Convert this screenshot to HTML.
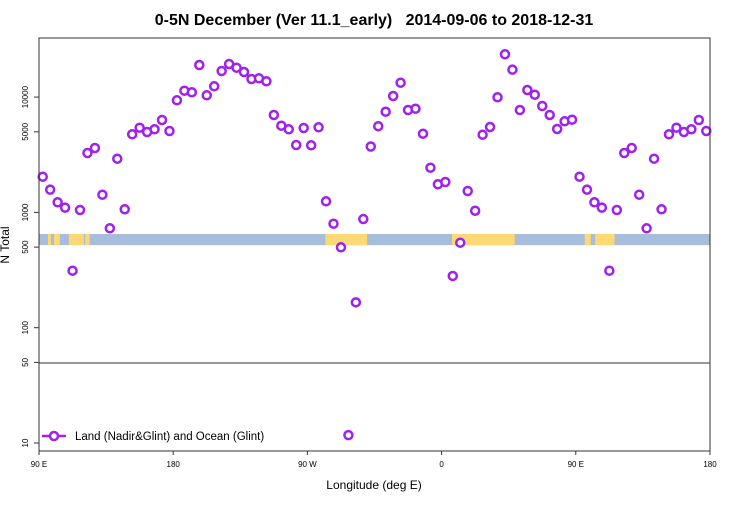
<!DOCTYPE html>
<html><head><meta charset="utf-8"><style>
body{margin:0;background:#fff;}
svg text{font-family:"Liberation Sans",sans-serif;}
</style></head><body>
<svg id="chart" width="750" height="500" xmlns="http://www.w3.org/2000/svg">
<text x="374" y="25" font-size="16" font-weight="bold" text-anchor="middle" style="white-space:pre" xml:space="preserve">0-5N December (Ver 11.1_early)   2014-09-06 to 2018-12-31</text>
<g id="band"></g>
<line x1="39" x2="710" y1="363" y2="363" stroke="#333" stroke-width="1"/>
<g id="marks"></g>
<rect x="39" y="38" width="671" height="413" fill="none" stroke="#333" stroke-width="1"/>
<g id="axes"></g>
<text x="374" y="489" font-size="12" text-anchor="middle">Longitude (deg E)</text>
<text transform="translate(9,245) rotate(-90)" font-size="12" text-anchor="middle">N Total</text>
<g>
<line x1="42" x2="66" y1="436" y2="436" stroke="#a020f0" stroke-width="2.5"/>
<circle cx="54" cy="436" r="4" fill="#fff" stroke="#a020f0" stroke-width="2.5"/>
<text x="75" y="440" font-size="11.5">Land (Nadir&amp;Glint) and Ocean (Glint)</text>
</g>
</svg>
<script>
const lons=[];for(let i=0;i<90;i++)lons.push(92.5+5*i);
const totals=[2040,1574,1224,1099,312,1049,3275,3619,1424,728,2923,1064,4757,5427,4981,5259,6330,5082,9380,11360,11005,18980,10366,12410,16840,19370,17990,16510,14350,14560,13710,6996,5648,5259,3842,5395,3819,5471,1248,798,498,11.7,166,876,3729,5592,7469,10220,13330,7726,7929,4815,2442,1753,1835,281,546,1533,1034,4720,5505,9960,23510,17290,7726,11520,10490,8372,6996,5290,6168,6368,2040,1574,1224,1099,312,1049,3275,3619,1424,728,2923,1064,4757,5427,4981,5259,6330,5082];
const yTicks=[10,50,100,500,1000,5000,10000];
const xTickLons=[90,180,270,360,450,540];
const xTickLabels=["90 E","180","90 W","0","90 E","180"];
const landSegs=[[96,98],[100,104],[110,120],[121,124],[282,310],[367,409],[456,460],[463,476]];
const X=l=>39+(l-90)*671/450;
const Y=v=>443-(Math.log10(v)-1)*115.3;
const NS="http://www.w3.org/2000/svg";
function mk(tag,attrs,parent){const e=document.createElementNS(NS,tag);for(const k in attrs)e.setAttribute(k,attrs[k]);parent.appendChild(e);return e;}
const band=document.getElementById('band');
let r=mk('rect',{x:39,y:Y(650),width:671,height:Y(520)-Y(650),fill:'#a7bddb'},band);


landSegs.forEach(s=>{const e=mk('rect',{x:X(s[0]),y:Y(650),width:X(s[1])-X(s[0]),height:Y(520)-Y(650),fill:'#fdd975'},band);

});
const marks=document.getElementById('marks');
lons.forEach((l,i)=>{const c=mk('circle',{cx:X(l),cy:Y(totals[i]),r:4,fill:'#fff',stroke:'#a020f0','stroke-width':2.5},marks);

});
const axes=document.getElementById('axes');
yTicks.forEach(v=>{const y=Y(v);
const t=mk('line',{x1:34,x2:39,y1:y,y2:y,stroke:'#333'},axes);


const tx=mk('text',{transform:`translate(28,${y}) rotate(-90)`,'font-size':8,'text-anchor':'middle'},axes);tx.textContent=v;

});
xTickLons.forEach((l,i)=>{const x=X(l);
const t=mk('line',{x1:x,x2:x,y1:451,y2:455,stroke:'#333'},axes);


const tx=mk('text',{x:x,y:467,'font-size':8,'text-anchor':'middle'},axes);tx.textContent=xTickLabels[i];

});
</script>
</body></html>
